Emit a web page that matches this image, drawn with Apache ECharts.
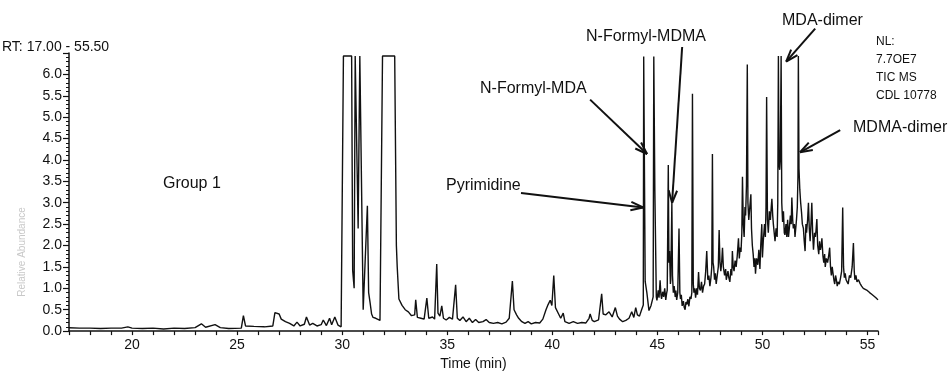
<!DOCTYPE html>
<html>
<head>
<meta charset="utf-8">
<script src="https://cdn.jsdelivr.net/npm/echarts@6/dist/echarts.min.js"></script>
<style>html,body{margin:0;padding:0;background:#fff;}#c{width:951px;height:376px;}</style>
</head>
<body>
<div id="c"></div>
<script>
// Retention time (min), segment by segment
const timesA = [17.0,17.5,18.0,18.5,19.0,19.5,19.8,20.0,20.5,21.0,21.5,22.0,22.5,23.0,23.3,23.5,23.95,24.2,24.6,25.2,25.3,25.4,25.8,26.3,26.7,26.8,27.0,27.1,27.3,27.5,27.7,27.85,28.0,28.2,28.3,28.45,28.6,28.8,29.0,29.1,29.25,29.4,29.5,29.65,29.8,29.95];
const valuesA = [0.08,0.07,0.07,0.06,0.07,0.07,0.10,0.07,0.06,0.07,0.05,0.07,0.06,0.08,0.17,0.09,0.15,0.08,0.06,0.07,0.36,0.12,0.11,0.10,0.12,0.43,0.40,0.28,0.22,0.18,0.12,0.21,0.12,0.16,0.33,0.14,0.18,0.12,0.15,0.26,0.13,0.30,0.15,0.33,0.14,0.10];

const timesB = [30.02,30.06,30.45,30.5,30.57,30.62,30.7,30.76,30.84,30.92,31.0,31.08,31.2,31.26,31.33,31.4,31.47,31.6,31.8,31.88,31.92,32.5,32.58,32.62,32.7];
const valuesB = [0.12,6.43,6.43,1.42,1.0,6.43,6.43,2.4,6.43,6.43,0.5,0.48,2.93,0.9,0.66,0.4,0.32,0.3,0.25,0.25,6.43,6.43,2.0,1.5,0.75];

const timesC = [32.85,33.0,33.15,33.3,33.45,33.5,33.58,33.75,33.9,34.03,34.12,34.3,34.4,34.5,34.56,34.65,34.74,34.82,34.95,35.1,35.25,35.4,35.48,35.6,35.75,35.9,36.05,36.2,36.35,36.5,36.7,36.85,37.0,37.2,37.4,37.6,37.8,37.95];
const valuesC = [0.6,0.5,0.45,0.36,0.38,0.73,0.32,0.3,0.28,0.77,0.3,0.33,0.28,1.57,0.42,0.35,0.59,0.3,0.26,0.32,0.28,1.08,0.3,0.25,0.33,0.22,0.3,0.2,0.27,0.2,0.22,0.27,0.2,0.18,0.2,0.17,0.21,0.3];

const timesD = [38.1,38.18,38.3,38.4,38.55,38.7,38.85,39.0,39.2,39.4,39.55,39.7,39.8,39.9,39.98,40.07,40.15,40.3,40.4,40.52,40.6,40.8,41.0,41.2,41.4,41.6,41.75,41.8,41.9,42.0,42.2,42.35,42.42,42.55,42.7,42.85,43.0,43.1,43.2,43.35,43.5,43.65,43.78,43.88,43.97,44.05,44.15,44.25,44.33];
const valuesD = [1.17,0.5,0.38,0.3,0.22,0.18,0.22,0.17,0.2,0.19,0.28,0.5,0.62,0.72,0.6,1.3,0.55,0.4,0.3,0.42,0.22,0.18,0.22,0.18,0.2,0.19,0.3,0.4,0.25,0.22,0.26,0.87,0.4,0.38,0.45,0.33,0.55,0.35,0.28,0.22,0.25,0.3,0.45,0.32,0.55,0.38,0.35,0.5,0.61];

const timesE = [44.35,44.39,44.42,44.5,44.6,44.7,44.8,44.83,44.86,44.88,44.95,44.98,45.04,45.08,45.13,45.17,45.2,45.25,45.3,45.35,45.4,45.44,45.47,45.52,45.55,45.58,45.62,45.64,45.69,45.72,45.76,45.8,45.85,45.88,45.92,45.97,46.03,46.07,46.1,46.14,46.18,46.24,46.28,46.32,46.36,46.4,46.45,46.5,46.55,46.6,46.64,46.67,46.71,46.74,46.78,46.82,46.87,46.91,46.96,47.0,47.05,47.1,47.15,47.2,47.25,47.3,47.35,47.4,47.45,47.5,47.55,47.59,47.62,47.65,47.68,47.72,47.76,47.8,47.85,47.9,47.94,47.98,48.02,48.06,48.1,48.14,48.2,48.25,48.28,48.32,48.36,48.4,48.45,48.5,48.54,48.57,48.61,48.65,48.7,48.75,48.8,48.86,48.9,48.94,48.98,49.02];
const valuesE = [6.42,6.42,1.16,0.9,0.48,0.6,0.8,6.42,6.42,3.3,0.8,0.72,0.95,0.78,1.19,0.85,0.75,0.92,0.8,1.0,0.73,0.88,0.96,3.88,1.6,1.87,1.1,1.2,3.0,1.3,0.9,1.05,0.8,0.95,0.73,0.9,2.4,0.9,0.75,0.85,0.59,0.7,0.55,0.5,0.68,0.62,0.75,0.58,0.8,0.75,0.9,5.55,1.1,0.9,1.0,0.78,1.0,0.85,1.38,1.0,0.95,1.15,0.9,1.05,1.1,1.4,1.87,1.2,1.3,1.05,1.25,1.5,4.14,1.6,1.5,1.2,1.35,1.1,1.3,1.5,2.36,1.6,1.4,1.6,1.95,1.5,1.3,1.45,1.2,1.2,1.4,1.25,1.15,1.45,1.3,1.87,1.5,1.4,1.65,1.5,1.75,2.17,1.7,1.95,1.85,2.3];

const timesF = [49.05,49.09,49.13,49.17,49.2,49.24,49.28,49.31,49.35,49.4,49.45,49.48,49.52,49.56,49.6,49.64,49.67,49.72,49.78,49.83,49.88,49.92,49.97,50.0,50.04,50.1,50.14,50.17,50.2,50.24,50.28,50.33,50.38,50.42,50.45,50.49,50.52,50.56,50.6,50.65,50.7,50.73,50.76,50.79,50.82,50.85,50.89,50.92,50.96,51.0,51.04,51.07,51.12,51.16,51.2,51.24,51.28,51.33,51.37,51.4,51.44,51.47,51.52,51.55,51.58,51.62,51.66,51.69,51.71,51.74,51.78,51.82,51.86,51.9,51.95,51.99,52.03,52.07,52.1,52.15,52.19,52.23,52.27,52.31,52.35,52.39,52.43,52.48,52.52,52.55,52.59,52.63,52.68,52.72,52.76,52.8,52.83,52.88,52.92,52.96,52.99];
const valuesF = [3.61,2.5,2.2,2.9,2.7,3.4,6.23,3.0,2.6,2.9,3.2,2.4,2.0,1.8,1.5,1.7,1.34,1.7,1.55,1.9,1.45,2.0,2.5,1.72,2.1,2.5,2.2,2.9,5.47,2.6,2.3,2.8,2.6,2.9,3.09,2.7,2.5,2.3,2.1,2.4,2.2,3.0,6.43,3.9,3.77,4.0,6.43,3.0,2.55,2.8,2.3,2.25,2.5,2.2,2.6,2.2,2.4,2.7,2.5,3.12,2.6,2.4,2.5,2.2,2.17,2.6,2.9,3.6,6.43,3.8,3.3,3.0,2.78,2.5,2.4,2.1,1.87,2.5,2.3,2.6,3.0,2.4,2.1,2.5,3.0,2.3,1.9,2.3,2.2,2.35,2.62,2.0,1.8,2.1,1.9,2.0,2.17,1.75,1.6,1.8,1.5];

const timesG = [53.04,53.1,53.15,53.2,53.24,53.28,53.32,53.36,53.4,53.44,53.48,53.52,53.56,53.6,53.66,53.72,53.77,53.82,53.86,53.9,53.94,53.98,54.03,54.08,54.14,54.2,54.27,54.33,54.37,54.4,54.45,54.5,54.57,54.65,54.72,54.8,54.88,54.96,55.03,55.1,55.2,55.3,55.4,55.5];
const valuesG = [1.7,1.6,1.75,1.95,1.5,1.3,1.5,1.35,1.2,1.1,1.3,1.2,1.05,1.15,1.1,1.25,1.4,2.89,1.5,1.25,1.35,1.2,1.15,1.1,1.3,1.25,1.5,2.06,1.4,1.2,1.3,1.15,1.2,1.11,1.05,1.0,1.0,0.96,0.92,0.9,0.86,0.82,0.78,0.73];

const times = [].concat(timesA,timesB,timesC,timesD,timesE,timesF,timesG);
const abundance = [].concat(valuesA,valuesB,valuesC,valuesD,valuesE,valuesF,valuesG);

// Axis tick labels
const xTickLabels = [20,25,30,35,40,45,50,55];
const yTickLabels = [0.0,0.5,1.0,1.5,2.0,2.5,3.0,3.5,4.0,4.5,5.0,5.5,6.0];
// Peak annotations: arrow [from time, from value] -> [to time, to value]
const arrowNames = ['Pyrimidine','N-Formyl-MDA','N-Formyl-MDMA','MDA-dimer','MDMA-dimer'];
const arrowFrom = [[38.51,3.23],[41.80,5.41],[46.18,6.64],[52.51,7.07],[53.70,4.70]];
const arrowTo = [[44.32,2.89],[44.51,4.14],[45.70,3.00],[51.13,6.30],[51.79,4.18]];
const instrumentInfo = ['NL:','7.7OE7','TIC MS','CDL 10778'];

const chart = echarts.init(document.getElementById('c'), null, {renderer:'canvas'});
const seriesData = times.map((t,i)=>[t, abundance[i]]);
const font = 'Liberation Sans, Arial, sans-serif';

chart.setOption({
  animation:false,
  backgroundColor:'#fff',
  grid:{left:69, right:73, top:53, bottom:37},
  xAxis:{
    type:'value', min:17, max:55.5, interval:1,
    name:'Time (min)', nameLocation:'middle', nameGap:21,
    nameTextStyle:{color:'#111', fontSize:14, fontFamily:font},
    axisLine:{lineStyle:{color:'#111', width:1.5}},
    axisTick:{show:true, length:4, lineStyle:{color:'#111', width:1.2}},
    axisLabel:{color:'#111', fontSize:14, fontFamily:font, margin:7,
      formatter:v=> xTickLabels.indexOf(Math.round(v*100)/100)>=0 ? String(v) : ''},
    splitLine:{show:false}
  },
  yAxis:{
    type:'value', min:0, max:6.5, interval:0.5,
    axisLine:{show:true, lineStyle:{color:'#111', width:1.5}},
    axisTick:{show:true, length:6, lineStyle:{color:'#111', width:1.2}},
    minorTick:{show:true, splitNumber:5, length:3, lineStyle:{color:'#111', width:1}},
    axisLabel:{color:'#111', fontSize:14, fontFamily:font, margin:7,
      formatter:v=>{ const r=Math.round(v*10)/10; return yTickLabels.indexOf(r)>=0 ? r.toFixed(1) : ''; }},
    splitLine:{show:false}
  },
  series:[{
    type:'line', data:seriesData, showSymbol:false, symbol:'none',
    lineStyle:{color:'#111', width:1.4}, clip:true
  }]
});

function drawAnnotations(){
  const g = [];
  g.push({type:'text', x:2, y:47, silent:true, style:{text:'RT: 17.00 - 55.50', fill:'#111', font:'14px '+font, textVerticalAlign:'middle'}});
  g.push({type:'text', x:163, y:184, silent:true, style:{text:'Group 1', fill:'#111', font:'16px '+font, textVerticalAlign:'middle'}});
  const labelPos = [[446,186],[480,89],[586,37],[782,21],[853,128]];
  arrowNames.forEach((n,i)=>{
    g.push({type:'text', x:labelPos[i][0], y:labelPos[i][1], silent:true, style:{text:n, fill:'#111', font:'16px '+font, textVerticalAlign:'middle'}});
  });
  instrumentInfo.forEach((s,i)=>g.push({type:'text', x:876, y:42+18*i, silent:true, style:{text:s, fill:'#111', font:'12px '+font, textVerticalAlign:'middle'}}));
  g.push({type:'text', x:22, y:252, rotation:Math.PI/2, silent:true,
    style:{text:'Relative Abundance', fill:'#c8c8c8', font:'10px '+font, textAlign:'center', textVerticalAlign:'middle'}});
  arrowFrom.forEach((f,i)=>{
    const p1 = chart.convertToPixel({gridIndex:0}, f);
    const p2 = chart.convertToPixel({gridIndex:0}, arrowTo[i]);
    g.push({type:'line', silent:true, shape:{x1:p1[0],y1:p1[1],x2:p2[0],y2:p2[1]}, style:{stroke:'#111', lineWidth:2}});
    const ang = Math.atan2(p2[1]-p1[1], p2[0]-p1[0]);
    const L = 13, a = 0.33;
    [ang+Math.PI-a, ang+Math.PI+a].forEach(b=>{
      g.push({type:'line', silent:true, shape:{x1:p2[0],y1:p2[1],x2:p2[0]+L*Math.cos(b),y2:p2[1]+L*Math.sin(b)}, style:{stroke:'#111', lineWidth:2}});
    });
  });
  chart.setOption({graphic:g});
}
drawAnnotations();
</script>
</body>
</html>
